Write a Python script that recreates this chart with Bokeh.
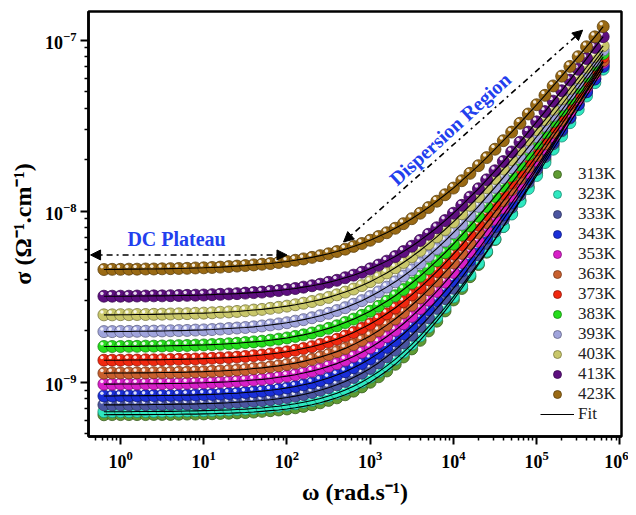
from bokeh.plotting import figure
from bokeh.models import (ColumnDataSource, Legend, LegendItem, Arrow, NormalHead,
                          Label, Range1d, LogScale, FixedTicker)
from bokeh.embed import file_html
from bokeh.resources import INLINE

# ---------------- data ----------------
omega = [0.631, 0.794,
         1.0, 1.26, 1.58, 2.0, 2.51, 3.16, 3.98, 5.01, 6.31, 7.94,
         10.0, 12.6, 15.8, 20.0, 25.1, 31.6, 39.8, 50.1, 63.1, 79.4,
         100.0, 126.0, 158.0, 200.0, 251.0, 316.0, 398.0, 501.0, 631.0, 794.0,
         1000.0, 1260.0, 1580.0, 2000.0, 2510.0, 3160.0, 3980.0, 5010.0, 6310.0, 7940.0,
         10000.0, 12600.0, 15800.0, 20000.0, 25100.0, 31600.0, 39800.0, 50100.0, 63100.0, 79400.0,
         100000.0, 126000.0, 158000.0, 200000.0, 251000.0, 316000.0, 398000.0, 501000.0, 631000.0]

temps = ["313K", "323K", "333K", "343K", "353K", "363K",
         "373K", "383K", "393K", "403K", "413K", "423K"]
colors = ["#5f9b32", "#2ee8c0", "#4b55a0", "#1a2fd8", "#d81fc8", "#c8602e",
          "#f0280f", "#25dd1c", "#a0a4dc", "#c9c76a", "#5e0f80", "#9a6a14"]

# log10 of sigma (S/cm) for each temperature
log_sigma_313 = [-9.190, -9.189, -9.189, -9.189, -9.189, -9.189, -9.188, -9.188, -9.188, -9.187,
                 -9.186, -9.186, -9.185, -9.184, -9.182, -9.181, -9.179, -9.177, -9.174, -9.170,
                 -9.166, -9.162, -9.156, -9.149, -9.141, -9.131, -9.120, -9.106, -9.091, -9.073,
                 -9.052, -9.027, -9.000, -8.968, -8.934, -8.895, -8.852, -8.805, -8.755, -8.700,
                 -8.643, -8.583, -8.519, -8.452, -8.383, -8.312, -8.240, -8.166, -8.090, -8.013,
                 -7.936, -7.857, -7.778, -7.698, -7.617, -7.536, -7.456, -7.374, -7.293, -7.211,
                 -7.128]
log_sigma_323 = [-9.172, -9.172, -9.172, -9.172, -9.171, -9.171, -9.171, -9.170, -9.170, -9.169,
                 -9.168, -9.167, -9.166, -9.165, -9.163, -9.162, -9.159, -9.157, -9.153, -9.150,
                 -9.145, -9.140, -9.133, -9.126, -9.117, -9.107, -9.095, -9.080, -9.064, -9.045,
                 -9.023, -8.999, -8.970, -8.939, -8.904, -8.866, -8.824, -8.778, -8.729, -8.677,
                 -8.621, -8.563, -8.501, -8.437, -8.371, -8.304, -8.234, -8.163, -8.090, -8.017,
                 -7.943, -7.868, -7.792, -7.716, -7.638, -7.561, -7.483, -7.406, -7.327, -7.249,
                 -7.170]
log_sigma_333 = [-9.132, -9.132, -9.132, -9.131, -9.131, -9.131, -9.130, -9.130, -9.129, -9.128,
                 -9.128, -9.127, -9.125, -9.124, -9.122, -9.120, -9.117, -9.114, -9.111, -9.107,
                 -9.102, -9.096, -9.089, -9.081, -9.072, -9.060, -9.047, -9.032, -9.015, -8.995,
                 -8.972, -8.947, -8.919, -8.887, -8.851, -8.812, -8.770, -8.725, -8.675, -8.623,
                 -8.568, -8.511, -8.451, -8.388, -8.323, -8.256, -8.189, -8.119, -8.048, -7.977,
                 -7.904, -7.830, -7.756, -7.681, -7.606, -7.530, -7.455, -7.378, -7.302, -7.226,
                 -7.149]
log_sigma_343 = [-9.080, -9.080, -9.079, -9.079, -9.079, -9.078, -9.078, -9.077, -9.077, -9.076,
                 -9.075, -9.074, -9.072, -9.071, -9.069, -9.066, -9.064, -9.060, -9.056, -9.052,
                 -9.047, -9.041, -9.033, -9.025, -9.015, -9.004, -8.990, -8.975, -8.958, -8.938,
                 -8.915, -8.890, -8.862, -8.831, -8.796, -8.758, -8.718, -8.673, -8.626, -8.576,
                 -8.523, -8.467, -8.409, -8.350, -8.287, -8.222, -8.157, -8.090, -8.022, -7.952,
                 -7.883, -7.812, -7.741, -7.668, -7.596, -7.523, -7.450, -7.376, -7.302, -7.228,
                 -7.154]
log_sigma_353 = [-9.011, -9.011, -9.010, -9.010, -9.010, -9.009, -9.009, -9.008, -9.007, -9.007,
                 -9.006, -9.004, -9.003, -9.001, -8.999, -8.997, -8.994, -8.991, -8.987, -8.983,
                 -8.978, -8.971, -8.964, -8.956, -8.946, -8.935, -8.922, -8.907, -8.891, -8.871,
                 -8.849, -8.825, -8.798, -8.768, -8.734, -8.697, -8.658, -8.615, -8.569, -8.520,
                 -8.469, -8.415, -8.358, -8.300, -8.239, -8.177, -8.113, -8.048, -7.981, -7.914,
                 -7.845, -7.776, -7.706, -7.635, -7.564, -7.493, -7.420, -7.348, -7.276, -7.203,
                 -7.130]
log_sigma_363 = [-8.947, -8.946, -8.946, -8.946, -8.945, -8.945, -8.944, -8.943, -8.943, -8.942,
                 -8.941, -8.939, -8.938, -8.936, -8.934, -8.931, -8.928, -8.925, -8.920, -8.916,
                 -8.910, -8.904, -8.896, -8.888, -8.878, -8.866, -8.853, -8.838, -8.821, -8.802,
                 -8.780, -8.755, -8.729, -8.699, -8.666, -8.630, -8.592, -8.550, -8.506, -8.459,
                 -8.409, -8.357, -8.303, -8.247, -8.189, -8.128, -8.067, -8.004, -7.940, -7.875,
                 -7.809, -7.742, -7.675, -7.607, -7.539, -7.469, -7.400, -7.330, -7.260, -7.190,
                 -7.120]
log_sigma_373 = [-8.871, -8.871, -8.871, -8.870, -8.870, -8.869, -8.869, -8.868, -8.867, -8.866,
                 -8.865, -8.864, -8.862, -8.860, -8.858, -8.856, -8.853, -8.849, -8.845, -8.841,
                 -8.835, -8.829, -8.822, -8.813, -8.803, -8.792, -8.779, -8.765, -8.749, -8.730,
                 -8.709, -8.685, -8.660, -8.631, -8.600, -8.566, -8.529, -8.489, -8.447, -8.401,
                 -8.353, -8.303, -8.251, -8.198, -8.140, -8.082, -8.023, -7.962, -7.900, -7.836,
                 -7.772, -7.707, -7.642, -7.576, -7.508, -7.441, -7.373, -7.305, -7.237, -7.168,
                 -7.099]
log_sigma_383 = [-8.791, -8.791, -8.791, -8.790, -8.790, -8.789, -8.789, -8.788, -8.787, -8.786,
                 -8.785, -8.783, -8.782, -8.780, -8.778, -8.775, -8.772, -8.768, -8.764, -8.760,
                 -8.754, -8.748, -8.741, -8.732, -8.723, -8.712, -8.699, -8.685, -8.670, -8.651,
                 -8.631, -8.609, -8.585, -8.556, -8.526, -8.494, -8.458, -8.420, -8.380, -8.336,
                 -8.290, -8.243, -8.193, -8.140, -8.087, -8.030, -7.973, -7.914, -7.855, -7.794,
                 -7.731, -7.669, -7.605, -7.541, -7.476, -7.411, -7.345, -7.279, -7.212, -7.145,
                 -7.079]
log_sigma_393 = [-8.704, -8.704, -8.703, -8.703, -8.702, -8.702, -8.701, -8.700, -8.699, -8.698,
                 -8.697, -8.695, -8.694, -8.692, -8.689, -8.686, -8.683, -8.680, -8.676, -8.671,
                 -8.665, -8.659, -8.652, -8.643, -8.634, -8.623, -8.611, -8.597, -8.581, -8.564,
                 -8.544, -8.523, -8.499, -8.472, -8.444, -8.413, -8.379, -8.343, -8.304, -8.262,
                 -8.219, -8.174, -8.126, -8.077, -8.025, -7.972, -7.917, -7.861, -7.804, -7.746,
                 -7.686, -7.626, -7.565, -7.503, -7.441, -7.378, -7.315, -7.251, -7.188, -7.123,
                 -7.058]
log_sigma_403 = [-8.606, -8.606, -8.605, -8.605, -8.604, -8.604, -8.603, -8.602, -8.601, -8.600,
                 -8.599, -8.597, -8.596, -8.594, -8.591, -8.589, -8.586, -8.582, -8.578, -8.574,
                 -8.568, -8.562, -8.555, -8.547, -8.538, -8.528, -8.517, -8.504, -8.489, -8.473,
                 -8.455, -8.435, -8.412, -8.387, -8.361, -8.331, -8.300, -8.266, -8.230, -8.191,
                 -8.150, -8.107, -8.063, -8.015, -7.966, -7.915, -7.863, -7.809, -7.754, -7.699,
                 -7.641, -7.584, -7.524, -7.466, -7.405, -7.344, -7.283, -7.221, -7.159, -7.096,
                 -7.034]
log_sigma_413 = [-8.497, -8.497, -8.497, -8.497, -8.496, -8.496, -8.495, -8.495, -8.494, -8.493,
                 -8.492, -8.491, -8.490, -8.488, -8.486, -8.484, -8.482, -8.479, -8.476, -8.473,
                 -8.468, -8.464, -8.458, -8.452, -8.444, -8.436, -8.427, -8.416, -8.404, -8.389,
                 -8.374, -8.357, -8.337, -8.315, -8.292, -8.265, -8.236, -8.205, -8.171, -8.135,
                 -8.097, -8.055, -8.012, -7.966, -7.918, -7.869, -7.817, -7.764, -7.710, -7.654,
                 -7.597, -7.538, -7.478, -7.418, -7.357, -7.296, -7.234, -7.171, -7.108, -7.043,
                 -6.980]
log_sigma_423 = [-8.341, -8.340, -8.340, -8.339, -8.339, -8.338, -8.338, -8.337, -8.336, -8.335,
                 -8.334, -8.332, -8.331, -8.329, -8.327, -8.324, -8.321, -8.318, -8.314, -8.310,
                 -8.306, -8.300, -8.294, -8.287, -8.279, -8.270, -8.260, -8.249, -8.236, -8.222,
                 -8.206, -8.189, -8.170, -8.148, -8.126, -8.100, -8.073, -8.044, -8.012, -7.979,
                 -7.942, -7.904, -7.865, -7.822, -7.779, -7.734, -7.687, -7.638, -7.588, -7.538,
                 -7.486, -7.432, -7.378, -7.323, -7.268, -7.211, -7.154, -7.097, -7.039, -6.981,
                 -6.921]

series = [log_sigma_313, log_sigma_323, log_sigma_333, log_sigma_343, log_sigma_353,
          log_sigma_363, log_sigma_373, log_sigma_383, log_sigma_393, log_sigma_403,
          log_sigma_413, log_sigma_423]

# ---------------- figure ----------------
SERIF = "Liberation Serif"
X0, X1 = 10 ** -0.385, 10 ** 6.02
Y0, Y1 = 10 ** -9.317, 10 ** -6.833

p = figure(width=628, height=507, x_axis_type="log", y_axis_type="log",
           x_range=Range1d(X0, X1), y_range=Range1d(Y0, Y1),
           output_backend="svg", toolbar_location=None,
           min_border_left=88, min_border_right=7, min_border_top=11, min_border_bottom=65)

# shifted ranges for the glossy highlight on each ball (a few px up-left)
p.extra_x_ranges = {"hl": Range1d(X0 * 10 ** 0.024, X1 * 10 ** 0.024)}
p.extra_y_ranges = {"hl": Range1d(Y0 / 10 ** 0.016, Y1 / 10 ** 0.016)}
p.extra_x_scales = {"hl": LogScale()}
p.extra_y_scales = {"hl": LogScale()}

p.grid.visible = False
p.outline_line_color = "black"
p.outline_line_width = 2.5
p.background_fill_color = "white"


def shade(hexc, f=0.6):
    r, g, b = int(hexc[1:3], 16), int(hexc[3:5], 16), int(hexc[5:7], 16)
    return "#%02x%02x%02x" % (int(r * f), int(g * f), int(b * f))


items = []
fit_r = None
ball_renderers = []
for t, col, ls in zip(temps, colors, series):
    src = ColumnDataSource(dict(w=omega, s=[10 ** v for v in ls]))
    r = p.scatter("w", "s", source=src, size=12, fill_color=col, line_color=shade(col),
                  line_width=0.8)
    p.scatter("w", "s", source=src, size=3.5, fill_color="white", fill_alpha=0.85,
              line_color=None, x_range_name="hl", y_range_name="hl")
    ball_renderers.append((t, r, src))

for t, r, src in ball_renderers:
    fr = p.line("w", "s", source=src, line_color="black", line_width=1.1)
    fit_r = fr
    items.append(LegendItem(label=t, renderers=[r]))
items.append(LegendItem(label="Fit", renderers=[fit_r]))

legend = Legend(items=items, location=(452, 12), border_line_color=None,
                background_fill_alpha=0, label_text_font=SERIF, label_text_font_size="17px",
                label_text_color="#222222", glyph_width=34, glyph_height=20, label_height=20,
                spacing=0, padding=0, margin=0, label_standoff=4)
p.add_layout(legend)

# ---------------- axes ----------------
p.xaxis.ticker = FixedTicker(ticks=[10.0 ** k for k in range(0, 7)],
                             minor_ticks=[m * 10.0 ** k for k in range(-1, 6) for m in range(2, 10)])
p.yaxis.ticker = FixedTicker(ticks=[1e-9, 1e-8, 1e-7],
                             minor_ticks=[m * 10.0 ** k for k in range(-10, -6) for m in range(2, 10)])
for ax in (p.xaxis, p.yaxis):
    ax.axis_line_width = 2.5
    ax.major_tick_line_width = 2
    ax.minor_tick_line_width = 1.5
    ax.major_tick_out = 8
    ax.major_tick_in = 0
    ax.minor_tick_out = 4
    ax.minor_tick_in = 0
    ax.major_label_text_font = SERIF
    ax.major_label_text_font_style = "bold"
    ax.major_label_text_font_size = "18px"
    ax.major_label_text_color = "black"
    ax.axis_label_text_font = SERIF
    ax.axis_label_text_font_style = "bold"
    ax.axis_label_text_font_size = "24px"
    ax.axis_label_text_color = "black"

p.xaxis.axis_label = "ω (rad.s⁻¹)"
p.yaxis.axis_label = "σ (Ω⁻¹.cm⁻¹)"
p.xaxis.major_label_standoff = 6
p.xaxis.axis_label_standoff = 8
p.yaxis.major_label_standoff = 4
p.yaxis.axis_label_standoff = 6

# ---------------- annotations ----------------
BLUE = "#2240ee"
p.add_layout(Arrow(x_start=10 ** -0.36, y_start=10 ** -8.256, x_end=10 ** 2.0, y_end=10 ** -8.256,
                   line_color="black", line_width=1.6, line_dash="dashdot",
                   start=NormalHead(size=10, fill_color="black", line_color="black"),
                   end=NormalHead(size=10, fill_color="black", line_color="black")))
p.add_layout(Arrow(x_start=10 ** 2.68, y_start=10 ** -8.18, x_end=10 ** 5.553, y_end=10 ** -6.942,
                   line_color="black", line_width=1.6, line_dash="dashdot",
                   start=NormalHead(size=10, fill_color="black", line_color="black"),
                   end=NormalHead(size=10, fill_color="black", line_color="black")))
p.add_layout(Label(x=10 ** 0.673, y=10 ** -8.164, text="DC Plateau", text_font=SERIF,
                   text_font_style="bold", text_font_size="20px", text_color=BLUE,
                   text_align="center", text_baseline="middle"))
p.add_layout(Label(x=10 ** 3.96, y=10 ** -7.52, text="Dispersion Region", text_font=SERIF,
                   text_font_style="bold", text_font_size="20px", text_color=BLUE,
                   text_align="center", text_baseline="middle", angle=0.74))

open("out.html", "w").write(file_html(p, INLINE))
